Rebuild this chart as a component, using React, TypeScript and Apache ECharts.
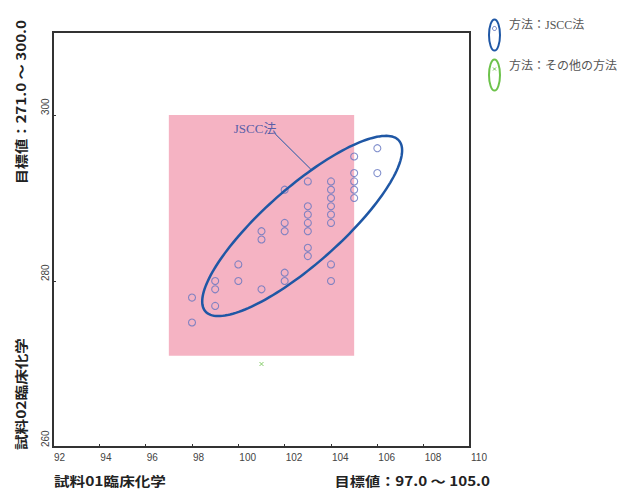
import React, { useEffect, useRef } from 'react';
import * as echarts from 'echarts';

// Axis ranges
const xRange = [92, 110];
const yRange = [260, 310];
const xInterval = 2;
const yInterval = 20;

// 方法：JSCC法
const jsccX = [98, 98, 99, 99, 99, 100, 100, 101, 101, 101, 102, 102, 102, 102, 102, 103, 103, 103, 103, 103, 103, 103, 104, 104, 104, 104, 104, 104, 104, 104, 105, 105, 105, 105, 105, 106, 106];
const jsccY = [278, 275, 280, 279, 277, 282, 280, 286, 285, 279, 291, 287, 286, 281, 280, 292, 289, 288, 287, 286, 284, 283, 292, 291, 290, 289, 288, 287, 282, 280, 295, 293, 292, 291, 290, 296, 293];

// 方法：その他の方法
const otherX = [101];
const otherY = [270];

// 目標値 ranges
const targetX = [97.0, 105.0];
const targetY = [271.0, 300.0];

// Ellipse (major-axis tips in data units) and callout
const ellipseTip1 = [98.58, 276.33];
const ellipseTip2 = [106.93, 296.93];
const ellipseRatio = 0.295;
const calloutFrom = [101.6, 297.7];
const calloutTo = [103.13, 293.46];

const BLUE = '#1f57a5';
const MARK = '#6476c0';
const GREEN = '#6cc24a';
const PINK = '#f5b3c3';

export default function App() {
  const ref = useRef<HTMLDivElement>(null);
  useEffect(() => {
    if (!ref.current) return;
    const chart = echarts.init(ref.current, null, { renderer: 'svg' });
    const jsccData = jsccX.map((x, i) => [x, jsccY[i]]);
    const otherData = otherX.map((x, i) => [x, otherY[i]]);
    const tickFont = "'Liberation Sans Narrow', 'Liberation Sans', Arial, sans-serif";
    const tickFontY = "'Liberation Sans', Arial, sans-serif";
    const titleFont = "'Noto Sans CJK JP', sans-serif";
    const serif = "'Liberation Serif', 'Noto Sans CJK JP', serif";

    chart.setOption({
      animation: false,
      grid: {
        left: 53, top: 32, right: 155, bottom: 43,
        show: true, borderColor: '#333', borderWidth: 2, backgroundColor: 'transparent',
      },
      xAxis: {
        type: 'value', min: xRange[0], max: xRange[1], interval: xInterval,
        axisLine: { show: true, lineStyle: { color: '#333', width: 2 } },
        axisTick: { show: true, inside: true, length: 3, lineStyle: { color: '#333' } },
        splitLine: { show: false },
        axisLabel: { color: '#444', fontSize: 10, fontFamily: tickFont, align: 'left', margin: 5, padding: [0, 0, 0, 1] },
      },
      yAxis: {
        type: 'value', min: yRange[0], max: yRange[1], interval: yInterval,
        axisLine: { show: true, lineStyle: { color: '#333', width: 2 } },
        axisTick: { show: true, inside: true, length: 3, lineStyle: { color: '#333' } },
        splitLine: { show: false },
        axisLabel: {
          color: '#444', fontSize: 10, fontFamily: tickFontY, rotate: 90,
          align: 'left', verticalAlign: 'bottom', margin: 3, showMaxLabel: false,
        },
      },
      series: [
        {
          name: '方法：JSCC法',
          type: 'scatter',
          data: jsccData,
          symbol: 'circle',
          symbolSize: 7,
          itemStyle: { color: 'rgba(0,0,0,0)', borderColor: MARK, borderWidth: 1.1 },
          z: 3,
          markArea: {
            silent: true,
            itemStyle: { color: PINK, opacity: 1 },
            data: [[{ coord: [targetX[0], targetY[0]] }, { coord: [targetX[1], targetY[1]] }]],
          },
        },
        {
          name: '方法：その他の方法',
          type: 'scatter',
          data: otherData,
          symbol: 'path://M0,0L10,10M10,0L0,10',
          symbolSize: 4,
          itemStyle: { color: 'rgba(0,0,0,0)', borderColor: GREEN, borderWidth: 1 },
          z: 3,
        },
        {
          name: 'ellipse',
          type: 'custom',
          coordinateSystem: 'cartesian2d',
          data: [[ellipseTip1[0], ellipseTip1[1], ellipseTip2[0], ellipseTip2[1]]],
          encode: { x: [0, 2], y: [1, 3] },
          z: 4,
          silent: true,
          renderItem: (params: any, api: any) => {
            const p1 = api.coord([api.value(0), api.value(1)]);
            const p2 = api.coord([api.value(2), api.value(3)]);
            const cx = (p1[0] + p2[0]) / 2;
            const cy = (p1[1] + p2[1]) / 2;
            const a = Math.hypot(p2[0] - p1[0], p2[1] - p1[1]) / 2;
            const b = a * ellipseRatio;
            const th = Math.atan2(p2[1] - p1[1], p2[0] - p1[0]);
            const pts: number[][] = [];
            const n = 160;
            for (let i = 0; i < n; i++) {
              const t = (i / n) * Math.PI * 2;
              pts.push([
                cx + a * Math.cos(t) * Math.cos(th) - b * Math.sin(t) * Math.sin(th),
                cy + a * Math.cos(t) * Math.sin(th) + b * Math.sin(t) * Math.cos(th),
              ]);
            }
            const c1 = api.coord(calloutFrom);
            const c2 = api.coord(calloutTo);
            return {
              type: 'group',
              children: [
                { type: 'polygon', shape: { points: pts }, style: { fill: 'none', stroke: BLUE, lineWidth: 2.5 } },
                { type: 'line', shape: { x1: c1[0], y1: c1[1], x2: c2[0], y2: c2[1] }, style: { stroke: BLUE, lineWidth: 1 } },
                {
                  type: 'text', x: c1[0] + 1, y: c1[1] - 6,
                  style: { text: 'JSCC法', fill: '#5a5fa8', font: `13px ${serif}`, align: 'right', verticalAlign: 'middle' },
                },
              ],
            };
          },
        },
      ],
      graphic: [
        // Legend
        { type: 'ellipse', shape: { cx: 494.5, cy: 35, rx: 5.5, ry: 15.5 }, style: { fill: 'none', stroke: BLUE, lineWidth: 2 } },
        { type: 'circle', shape: { cx: 494.5, cy: 28.5, r: 2 }, style: { fill: 'none', stroke: MARK, lineWidth: 1 } },
        { type: 'text', x: 509, y: 25, style: { text: '方法：JSCC法', fill: '#555', font: `12px ${serif}`, verticalAlign: 'middle' } },
        { type: 'ellipse', shape: { cx: 494.5, cy: 75, rx: 5.5, ry: 15.5 }, style: { fill: 'none', stroke: GREEN, lineWidth: 2 } },
        { type: 'line', shape: { x1: 493, y1: 67.5, x2: 496, y2: 70.5 }, style: { stroke: GREEN, lineWidth: 1 } },
        { type: 'line', shape: { x1: 496, y1: 67.5, x2: 493, y2: 70.5 }, style: { stroke: GREEN, lineWidth: 1 } },
        { type: 'text', x: 509, y: 66, style: { text: '方法：その他の方法', fill: '#555', font: `12px ${serif}`, verticalAlign: 'middle' } },
        // Axis titles
        {
          type: 'text', x: 54, y: 480, scaleX: 1.2,
          style: { text: '試料01臨床化学', fill: '#222', font: `bold 13px ${titleFont}`, align: 'left', verticalAlign: 'middle' },
        },
        {
          type: 'text', x: 490, y: 480, scaleX: 1.17,
          style: { text: '目標値：97.0 〜 105.0', fill: '#222', font: `bold 13px ${titleFont}`, align: 'right', verticalAlign: 'middle' },
        },
        {
          type: 'text', x: 20, y: 450, rotation: Math.PI / 2, scaleX: 1.2,
          style: { text: '試料02臨床化学', fill: '#222', font: `bold 13px ${titleFont}`, align: 'left', verticalAlign: 'middle' },
        },
        {
          type: 'text', x: 20, y: 20, rotation: Math.PI / 2, scaleX: 1.17,
          style: { text: '目標値：271.0 〜 300.0', fill: '#222', font: `bold 13px ${titleFont}`, align: 'right', verticalAlign: 'middle' },
        },
      ],
    });
    return () => chart.dispose();
  }, []);
  return <div ref={ref} style={{ position: 'absolute', left: 0, top: 0, width: 625, height: 490 }} />;
}
